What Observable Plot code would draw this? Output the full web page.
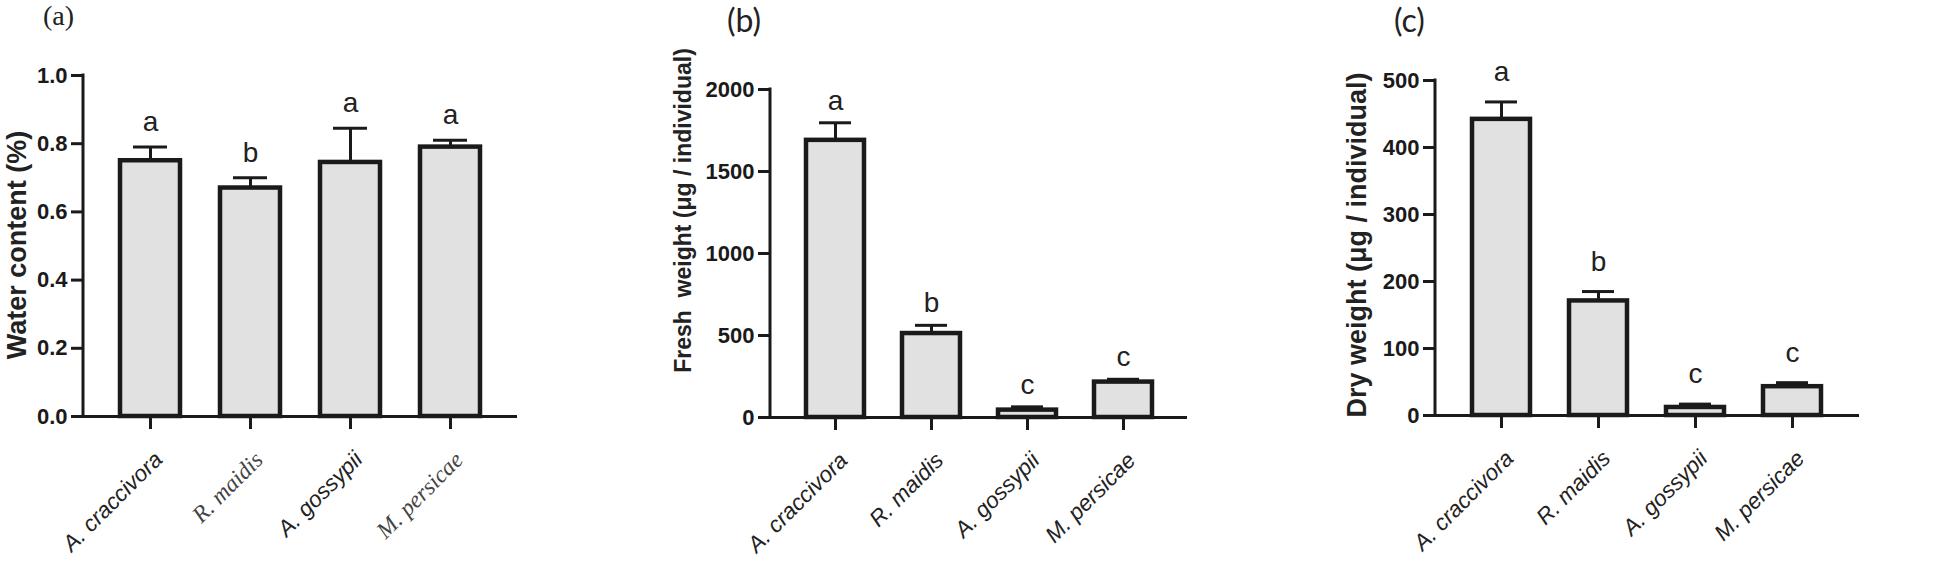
<!DOCTYPE html>
<html><head><meta charset="utf-8">
<script src="https://cdn.jsdelivr.net/npm/d3@7"></script>
<script src="https://cdn.jsdelivr.net/npm/@observablehq/plot@0.6"></script>
<style>
body{margin:0;background:#fff;}
#wrap{position:relative;width:1960px;height:563px;overflow:hidden;background:#fff;}
.panel{position:absolute;top:0;}
.plabel{position:absolute;line-height:1.15;color:#222;}
</style></head><body><div id="wrap"></div>
<script>
// ---- data ----
const species = ["A. craccivora", "R. maidis", "A. gossypii", "M. persicae"];
const waterContent = [0.75, 0.67, 0.745, 0.79];
const waterErr = [0.04, 0.03, 0.10, 0.02];
const waterLetters = ["a", "b", "a", "a"];
const freshWeight = [1690, 512, 45, 216];
const freshErr = [107, 50, 20, 17];
const freshLetters = ["a", "b", "c", "c"];
const dryWeight = [442, 171, 12, 43];
const dryErr = [26, 14, 5, 6];
const dryLetters = ["a", "b", "c", "c"];
const waterTicks = [0, 0.2, 0.4, 0.6, 0.8, 1.0];
const freshTicks = [0, 500, 1000, 1500, 2000];
const dryTicks = [0, 100, 200, 300, 400, 500];
const panelNames = ["(a)", "(b)", "(c)"];
const yTitles = ["Water content (%)", "Fresh\u00A0 weight (\u03BCg / individual)", "Dry weight (\u03BCg / individual)"];
const serifSpeciesA = ["R. maidis", "M. persicae"];

const INK = "#1a1a1a";
const wrap = document.getElementById("wrap");

function panel(o) {
  const data = species.map((s, i) => ({s, v: o.values[i], top: o.values[i] + o.errs[i], L: o.letters[i]}));
  const yMax = o.ticks[o.ticks.length - 1];
  const axisLine = (index, scales, values, dims) => {
    const line = document.createElementNS("http://www.w3.org/2000/svg", "line");
    const x = dims.marginLeft;
    line.setAttribute("x1", x); line.setAttribute("x2", x);
    line.setAttribute("y1", scales.y(0)); line.setAttribute("y2", scales.y(yMax));
    line.setAttribute("stroke", INK); line.setAttribute("stroke-width", 3);
    line.setAttribute("stroke-linecap", "square");
    return line;
  };
  const sansCats = species.filter(s => !o.serif.includes(s));
  const serifCats = species.filter(s => o.serif.includes(s));
  const lab = {x: d => d, text: d => d, frameAnchor: "bottom", rotate: -45, textAnchor: "end", lineAnchor: "top",
               dx: 2, dy: 33, fontSize: 22.5, fontStyle: "italic"};
  const svg = Plot.plot({
    width: o.width, height: 563,
    marginLeft: o.marginLeft, marginRight: o.marginRight, marginTop: o.marginTop, marginBottom: o.marginBottom,
    style: {fontFamily: "'Liberation Sans', Arial, sans-serif", color: INK, background: "transparent", overflow: "visible"},
    x: {domain: species, paddingInner: 0.4, paddingOuter: 0.365, label: null},
    y: {domain: [0, yMax], label: null},
    marks: [
      Plot.barY(data, {x: "s", y: "v", fill: "#e1e1e1", stroke: INK, strokeWidth: 4.5}),
      Plot.ruleX(data, {x: "s", y1: "v", y2: "top", stroke: INK, strokeWidth: 3}),
      Plot.tickY(data, {x: "s", y: "top", stroke: INK, strokeWidth: 3, insetLeft: 13, insetRight: 13}),
      Plot.text(data, {x: "s", y: "top", text: "L", dy: -o.letterGap, lineAnchor: "bottom", fontSize: 28, fill: "#222"}),
      Plot.ruleY([0], {stroke: INK, strokeWidth: 3}),
      axisLine,
      Plot.axisY(o.ticks, {tickSize: 12, tickPadding: 4, tickFormat: o.tickFormat, fontSize: 22, fontWeight: "bold",
                           strokeWidth: 3, label: null}),
      Plot.axisX(species, {tickSize: 13, tickFormat: () => "", strokeWidth: 3, label: null}),
      Plot.text(sansCats, {...lab, fill: "#222"}),
      Plot.text(serifCats, {...lab, fontSize: 23.5, fontFamily: "'Liberation Serif', 'Times New Roman', serif", fill: "#444"}),
      Plot.text([o.title], {text: d => d, frameAnchor: "left", rotate: -90, textAnchor: "middle", lineAnchor: "bottom",
                            dx: o.titleDx, dy: o.titleDy || 0, fontSize: o.titleSize, fontWeight: "bold", fill: "#222"})
    ]
  });
  svg.classList.add("panel");
  svg.style.left = o.left + "px";
  wrap.appendChild(svg);
  const pl = document.createElement("div");
  pl.className = "plabel";
  pl.textContent = o.name;
  pl.style.left = o.nameLeft + "px";
  pl.style.top = o.nameTop + "px";
  pl.style.fontFamily = o.nameFont;
  pl.style.fontSize = o.nameSize + "px";
  wrap.appendChild(pl);
}

panel({values: waterContent, errs: waterErr, letters: waterLetters, ticks: waterTicks, tickFormat: d3.format(".1f"),
       serif: serifSpeciesA, letterGap: 16, left: 0, width: 540, marginLeft: 83, marginRight: 23, marginTop: 75, marginBottom: 147,
       title: yTitles[0], titleSize: 27, titleDx: -58, titleDy: -1, name: panelNames[0], nameLeft: 43, nameTop: 0, nameSize: 28,
       nameFont: "'Liberation Serif', serif"});
panel({values: freshWeight, errs: freshErr, letters: freshLetters, ticks: freshTicks, tickFormat: d3.format("d"),
       serif: [], letterGap: 13, left: 640, width: 567, marginLeft: 130, marginRight: 20, marginTop: 89, marginBottom: 146,
       title: yTitles[1], titleSize: 23, titleDx: -80, titleDy: -43, name: panelNames[1], nameLeft: 727, nameTop: 2, nameSize: 32,
       nameFont: "Lato, 'Open Sans', sans-serif"});
panel({values: dryWeight, errs: dryErr, letters: dryLetters, ticks: dryTicks, tickFormat: d3.format("d"),
       serif: [], letterGap: 21, left: 1290, width: 670, marginLeft: 145, marginRight: 101, marginTop: 80, marginBottom: 148,
       title: yTitles[2], titleSize: 27, titleDx: -70, titleDy: -3, name: panelNames[2], nameLeft: 1394, nameTop: 2, nameSize: 32,
       nameFont: "Lato, 'Open Sans', sans-serif"});
</script></body></html>
